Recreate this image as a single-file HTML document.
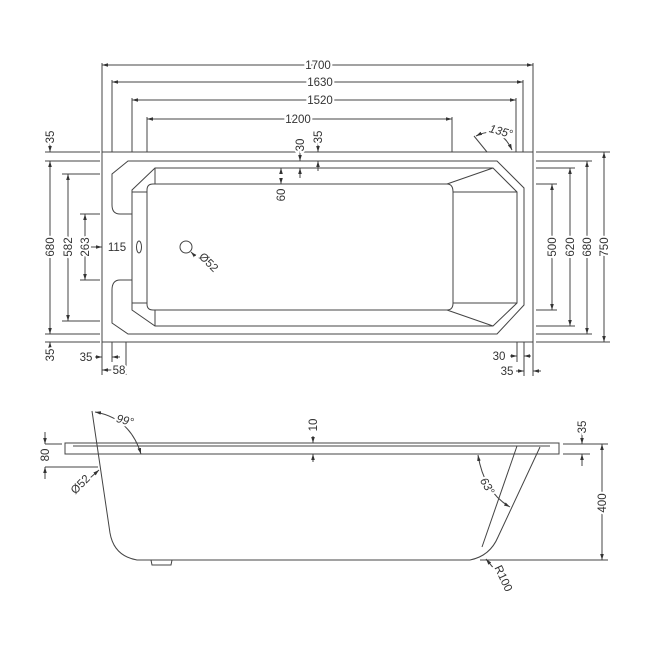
<!DOCTYPE html>
<html><head><meta charset="utf-8"><style>
html,body{margin:0;padding:0;background:#fff;}
svg{display:block;}
text{font-family:"Liberation Sans",sans-serif;font-size:11.5px;fill:#333;stroke:#fff;stroke-width:4px;paint-order:stroke;}
</style></head><body>
<svg width="650" height="650" viewBox="0 0 650 650" xmlns="http://www.w3.org/2000/svg">
<defs>
<marker id="a" viewBox="0 0 10 10" refX="10" refY="5" markerWidth="6" markerHeight="6" orient="auto-start-reverse" markerUnits="userSpaceOnUse"><path d="M0,2 L10,5 L0,8 z" fill="#333"/></marker>
</defs>
<g fill="none" stroke="#444" stroke-width="1">
<rect x="102" y="152" width="431" height="190"/>
<path d="M128,161 L497,161 L524,188 L524,305 L497,334 L128,334 L112,323 L112,290 Q112,280 120,280 L132,280 L132,214 L120,214 Q112,214 112,205 L112,174 Z"/>
<path d="M155,168 L493,168 L517,192 L517,303 L493,326 L155,326 L132,310 L132,190 Z"/>
<line x1="155" y1="168" x2="155" y2="184"/>
<line x1="155" y1="310" x2="155" y2="326"/>
<line x1="132" y1="192" x2="147" y2="192"/>
<line x1="132" y1="303" x2="147" y2="303"/>
<path d="M153,184 L447,184 Q453,184 453,192 L453,303 Q453,310 447,310 L153,310 Q147,310 147,304 L147,190 Q147,184 153,184 Z"/>
<line x1="447" y1="184" x2="493" y2="168"/>
<line x1="447" y1="310" x2="493" y2="326"/>
<line x1="453" y1="192" x2="517" y2="192"/>
<line x1="453" y1="303" x2="517" y2="303"/>
<circle cx="186" cy="247" r="6"/>
<ellipse cx="139" cy="247" rx="2.5" ry="6"/>
<line x1="191" y1="252" x2="197" y2="258" marker-start="url(#a)"/>

<line x1="102" y1="63" x2="102" y2="152"/><line x1="533" y1="63" x2="533" y2="152"/>
<line x1="112" y1="80" x2="112" y2="152"/><line x1="523" y1="80" x2="523" y2="152"/>
<line x1="132" y1="98" x2="132" y2="152"/><line x1="516" y1="98" x2="516" y2="152"/>
<line x1="147" y1="117" x2="147" y2="152"/><line x1="452" y1="117" x2="452" y2="152"/>
<line x1="102" y1="65" x2="533" y2="65" marker-start="url(#a)" marker-end="url(#a)"/>
<line x1="112" y1="82" x2="523" y2="82" marker-start="url(#a)" marker-end="url(#a)"/>
<line x1="132" y1="100" x2="516" y2="100" marker-start="url(#a)" marker-end="url(#a)"/>
<line x1="147" y1="119" x2="452" y2="119" marker-start="url(#a)" marker-end="url(#a)"/>
<line x1="487" y1="152" x2="474" y2="136"/>
<path d="M476,136 Q500,124 512,150" marker-start="url(#a)" marker-end="url(#a)"/>
<line x1="300" y1="150" x2="300" y2="161" marker-end="url(#a)"/>
<line x1="300" y1="178" x2="300" y2="168" marker-end="url(#a)"/>
<line x1="318" y1="143" x2="318" y2="152" marker-end="url(#a)"/>
<line x1="318" y1="171" x2="318" y2="161" marker-end="url(#a)"/>
<line x1="281" y1="172" x2="281" y2="168" marker-end="url(#a)"/>
<line x1="281" y1="180" x2="281" y2="184" marker-end="url(#a)"/>
<line x1="45" y1="152" x2="100" y2="152"/><line x1="45" y1="161" x2="100" y2="161"/>
<line x1="45" y1="334" x2="100" y2="334"/><line x1="45" y1="342" x2="100" y2="342"/>
<line x1="62" y1="174" x2="100" y2="174"/><line x1="62" y1="321" x2="100" y2="321"/>
<line x1="80" y1="214" x2="100" y2="214"/><line x1="80" y1="280" x2="100" y2="280"/>
<line x1="50" y1="161" x2="50" y2="334" marker-start="url(#a)" marker-end="url(#a)"/>
<line x1="68" y1="174" x2="68" y2="321" marker-start="url(#a)" marker-end="url(#a)"/>
<line x1="85" y1="214" x2="85" y2="280" marker-start="url(#a)" marker-end="url(#a)"/>
<line x1="90" y1="247" x2="102" y2="247" marker-end="url(#a)"/>
<line x1="50" y1="142" x2="50" y2="152" marker-end="url(#a)"/>
<line x1="50" y1="352" x2="50" y2="342" marker-end="url(#a)"/>
<line x1="102" y1="342" x2="102" y2="375"/><line x1="112" y1="342" x2="112" y2="362"/><line x1="126" y1="342" x2="126" y2="375"/>
<line x1="95" y1="357" x2="102" y2="357" marker-end="url(#a)"/>
<line x1="120" y1="357" x2="112" y2="357" marker-end="url(#a)"/>
<line x1="102" y1="370" x2="126" y2="370" marker-start="url(#a)" marker-end="url(#a)"/>
<line x1="536" y1="152" x2="610" y2="152"/><line x1="536" y1="342" x2="610" y2="342"/>
<line x1="536" y1="161" x2="592" y2="161"/><line x1="536" y1="334" x2="592" y2="334"/>
<line x1="536" y1="168" x2="575" y2="168"/><line x1="536" y1="326" x2="575" y2="326"/>
<line x1="536" y1="184" x2="557" y2="184"/><line x1="536" y1="310" x2="557" y2="310"/>
<line x1="604" y1="152" x2="604" y2="342" marker-start="url(#a)" marker-end="url(#a)"/>
<line x1="587" y1="161" x2="587" y2="334" marker-start="url(#a)" marker-end="url(#a)"/>
<line x1="570" y1="168" x2="570" y2="326" marker-start="url(#a)" marker-end="url(#a)"/>
<line x1="552" y1="184" x2="552" y2="310" marker-start="url(#a)" marker-end="url(#a)"/>
<line x1="517" y1="342" x2="517" y2="362"/><line x1="524" y1="342" x2="524" y2="376"/><line x1="533" y1="342" x2="533" y2="376"/>
<line x1="510" y1="356" x2="517" y2="356" marker-end="url(#a)"/>
<line x1="531" y1="356" x2="524" y2="356" marker-end="url(#a)"/>
<line x1="516" y1="371" x2="524" y2="371" marker-end="url(#a)"/>
<line x1="541" y1="371" x2="533" y2="371" marker-end="url(#a)"/>

<rect x="65" y="443" width="494" height="11"/>
<line x1="73" y1="446" x2="550" y2="446"/>
<path d="M92,411 L110,533 Q114,556 137,560 L470,560 Q490,556 498,537 L540,447"/>
<line x1="517" y1="446" x2="482" y2="547"/>
<path d="M151,560 L152,565 L171,565 L172,560"/>
<path d="M95,412 Q130,418 141,454" marker-start="url(#a)" marker-end="url(#a)"/>
<line x1="313" y1="436" x2="313" y2="443" marker-end="url(#a)"/>
<line x1="313" y1="462" x2="313" y2="454" marker-end="url(#a)"/>
<line x1="45" y1="444" x2="62" y2="444"/><line x1="45" y1="467" x2="98" y2="467"/>
<line x1="45" y1="432" x2="45" y2="444" marker-end="url(#a)"/>
<line x1="45" y1="479" x2="45" y2="467" marker-end="url(#a)"/>
<line x1="90" y1="478" x2="99" y2="470" marker-end="url(#a)"/>
<path d="M478,455 Q484,492 510,507" marker-start="url(#a)" marker-end="url(#a)"/>
<line x1="563" y1="444" x2="608" y2="444"/><line x1="563" y1="454" x2="590" y2="454"/>
<line x1="480" y1="560" x2="608" y2="560"/>
<line x1="582" y1="432" x2="582" y2="444" marker-end="url(#a)"/>
<line x1="582" y1="466" x2="582" y2="454" marker-end="url(#a)"/>
<line x1="602" y1="444" x2="602" y2="560" marker-start="url(#a)" marker-end="url(#a)"/>
<line x1="495" y1="570" x2="486" y2="559" marker-end="url(#a)"/>
</g>
<g>
<text x="318" y="69" text-anchor="middle">1700</text>
<text x="320" y="86" text-anchor="middle">1630</text>
<text x="320" y="104" text-anchor="middle">1520</text>
<text x="298" y="123" text-anchor="middle">1200</text>
<text transform="translate(500,135) rotate(15)" text-anchor="middle" font-style="italic">135°</text>
<text transform="translate(304,145) rotate(-90)" text-anchor="middle">30</text>
<text transform="translate(322,137) rotate(-90)" text-anchor="middle">35</text>
<text transform="translate(285,195) rotate(-90)" text-anchor="middle">60</text>
<text transform="translate(54,137) rotate(-90)" text-anchor="middle">35</text>
<text transform="translate(54,355) rotate(-90)" text-anchor="middle">35</text>
<text transform="translate(54,247) rotate(-90)" text-anchor="middle">680</text>
<text transform="translate(72,247) rotate(-90)" text-anchor="middle">582</text>
<text transform="translate(89,247) rotate(-90)" text-anchor="middle">263</text>
<text x="117" y="251" text-anchor="middle">115</text>
<text transform="translate(206,265) rotate(45)" text-anchor="middle">Ø52</text>
<text x="86" y="361" text-anchor="middle">35</text>
<text x="119" y="374" text-anchor="middle">58</text>
<text transform="translate(556,247) rotate(-90)" text-anchor="middle">500</text>
<text transform="translate(574,247) rotate(-90)" text-anchor="middle">620</text>
<text transform="translate(591,247) rotate(-90)" text-anchor="middle">680</text>
<text transform="translate(608,247) rotate(-90)" text-anchor="middle">750</text>
<text x="499" y="360" text-anchor="middle">30</text>
<text x="507" y="375" text-anchor="middle">35</text>
<text transform="translate(124,424) rotate(15)" text-anchor="middle" font-style="italic">99°</text>
<text transform="translate(317,425) rotate(-90)" text-anchor="middle">10</text>
<text transform="translate(49,455) rotate(-90)" text-anchor="middle">80</text>
<text transform="translate(83,487) rotate(-45)" text-anchor="middle">Ø52</text>
<text transform="translate(484,488) rotate(60)" text-anchor="middle" font-style="italic">63°</text>
<text transform="translate(586,427) rotate(-90)" text-anchor="middle">35</text>
<text transform="translate(606,503) rotate(-90)" text-anchor="middle">400</text>
<text transform="translate(500,580) rotate(65)" text-anchor="middle">R100</text>
</g>
</svg>
</body></html>
